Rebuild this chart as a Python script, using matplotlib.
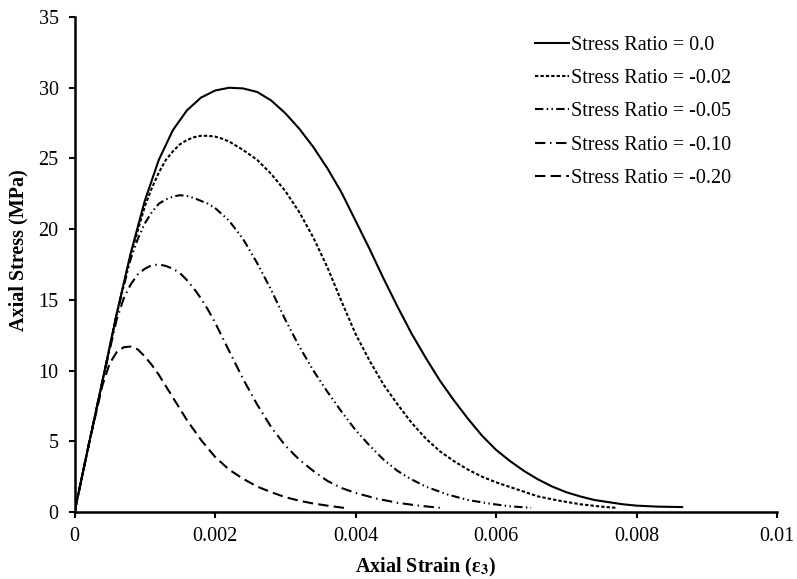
import matplotlib
matplotlib.use("Agg")
import matplotlib.pyplot as plt

plt.rcParams['font.family'] = ['Liberation Serif', 'DejaVu Serif']
plt.rcParams['mathtext.fontset'] = 'stix'

# stress-strain curves (strain [-], stress [MPa])
strain_00 = [0, .0002, .0004, .0006, .0008, .0010, .0012, .0014, .0016, .0018, .0020,
             .0022, .0024, .0026, .0028, .0030, .0032, .0034, .0036, .0038, .0040,
             .0042, .0044, .0046, .0048, .0050, .0052, .0054, .0056, .0058, .0060,
             .0062, .0064, .0066, .0068, .0070, .0072, .0074, .0076, .0078, .0080,
             .0083, .00865]
stress_00 = [0, 4.7, 9.3, 14.0, 18.3, 22.0, 24.9, 27.0, 28.4, 29.3, 29.8,
             30.0, 29.95, 29.7, 29.1, 28.2, 27.1, 25.8, 24.3, 22.6, 20.6,
             18.6, 16.5, 14.5, 12.6, 10.9, 9.3, 7.9, 6.6, 5.4, 4.4,
             3.6, 2.9, 2.3, 1.8, 1.4, 1.1, 0.85, 0.7, 0.55, 0.45,
             0.38, 0.35]

strain_02 = [0, .0002, .0004, .0006, .0008, .0010, .0011, .0012, .0013, .0014, .0015,
             .0016, .0017, .0018, .0019, .0020, .0021, .0022, .0024, .0026, .0028,
             .0030, .0032, .0034, .0036, .0038, .0040, .0042, .0044, .0046, .0048,
             .0050, .0052, .0054, .0056, .0058, .0060, .0063, .0066, .0069, .0072,
             .0075, .0077]
stress_02 = [0, 4.7, 9.3, 14.0, 18.2, 21.6, 22.9, 24.0, 24.9, 25.5, 26.0,
             26.3, 26.5, 26.6, 26.6, 26.55, 26.4, 26.2, 25.6, 24.9, 23.9,
             22.7, 21.2, 19.4, 17.3, 14.9, 12.6, 10.7, 9.0, 7.6, 6.3,
             5.2, 4.3, 3.6, 3.0, 2.5, 2.1, 1.6, 1.1, 0.8, 0.55,
             0.38, 0.3]

strain_05 = [0, .0002, .0004, .0006, .0008, .0009, .0010, .0011, .0012, .0013, .0014,
             .0015, .0016, .0017, .0018, .0019, .0020, .0022, .0024, .0026, .0028,
             .0030, .0032, .0034, .0036, .0038, .0040, .0042, .0044, .0046, .0048,
             .0050, .0053, .0056, .0059, .0062, .0065]
stress_05 = [0, 4.7, 9.3, 14.0, 17.9, 19.3, 20.4, 21.2, 21.8, 22.1, 22.3,
             22.4, 22.35, 22.2, 22.0, 21.8, 21.5, 20.6, 19.3, 17.6, 15.7,
             13.6, 11.7, 10.0, 8.5, 7.1, 5.8, 4.7, 3.7, 2.9, 2.3,
             1.8, 1.25, 0.85, 0.6, 0.4, 0.3]

strain_10 = [0, .0002, .0004, .0006, .0007, .0008, .0009, .0010, .0011, .0012, .0013,
             .0014, .0015, .0016, .0017, .0018, .0019, .0020, .0022, .0024, .0026,
             .0028, .0030, .0032, .0034, .0036, .0038, .0040, .0043, .0046, .0049,
             .0052]
stress_10 = [0, 4.7, 9.3, 13.6, 15.1, 16.1, 16.8, 17.2, 17.45, 17.5, 17.4,
             17.2, 16.9, 16.4, 15.8, 15.1, 14.3, 13.4, 11.4, 9.4, 7.6,
             6.0, 4.7, 3.7, 2.9, 2.2, 1.7, 1.35, 0.95, 0.65, 0.45,
             0.3]

strain_20 = [0, .0002, .0004, .0005, .0006, .0007, .0008, .0009, .0010, .0011, .0012,
             .0013, .0014, .0015, .0016, .0017, .0018, .0020, .0022, .0024, .0026,
             .0028, .0030, .0032, .0034, .0036, .0039]
stress_20 = [0, 4.7, 9.0, 10.5, 11.3, 11.65, 11.7, 11.5, 11.0, 10.4, 9.7,
             8.9, 8.1, 7.3, 6.5, 5.8, 5.1, 3.9, 3.0, 2.35, 1.8,
             1.4, 1.05, 0.8, 0.6, 0.45, 0.25]

labels = ['Stress Ratio = 0.0', 'Stress Ratio = -0.02', 'Stress Ratio = -0.05',
          'Stress Ratio = -0.10', 'Stress Ratio = -0.20']

fig = plt.figure(figsize=(7.97, 5.79), dpi=100)
ax = fig.add_axes([0.0935, 0.1157, 0.8814, 0.8549])

lw = 1.5
ax.plot(strain_00, stress_00, color='black', lw=lw, ls='-', label=labels[0])
ax.plot(strain_02, stress_02, color='black', lw=lw, ls=(0, (1.6, 1.0)), label=labels[1])
ax.plot(strain_05, stress_05, color='black', lw=lw, ls=(0, (4, 1.6, 0.7, 1.6, 0.7, 1.6)), label=labels[2])
ax.plot(strain_10, stress_10, color='black', lw=lw, ls=(0, (5, 2.2, 0.7, 2.2)), label=labels[3])
ax.plot(strain_20, stress_20, color='black', lw=lw, ls=(0, (5, 2.5)), label=labels[4])

ax.set_xlim(0, 0.01)
ax.set_ylim(0, 35)
ax.set_xticks([0, 0.002, 0.004, 0.006, 0.008, 0.01])
ax.set_xticklabels(['0', '0.002', '0.004', '0.006', '0.008', '0.01'])
ax.set_yticks(range(0, 36, 5))

for s in ['top', 'right']:
    ax.spines[s].set_visible(False)
for s in ['left', 'bottom']:
    ax.spines[s].set_linewidth(1.8)

ax.tick_params(direction='out', length=4.5, width=1.5, labelsize=14.5, pad=6, colors='black')
ax.tick_params(axis='y', pad=7)

ax.set_xlabel(r'Axial Strain (ε$_\mathbf{3}$)', fontsize=14.5, fontweight='bold')
ax.set_ylabel('Axial Stress (MPa)', fontsize=14.5, fontweight='bold')
ax.xaxis.set_label_coords(0.5, -0.088)
ax.yaxis.set_label_coords(-0.066, 0.53)

ax.legend(loc='upper left', bbox_to_anchor=(0.671, 0.938), bbox_transform=fig.transFigure,
          frameon=False, fontsize=14.5, handlelength=1.7, handletextpad=0.1,
          labelspacing=0.7, borderpad=0, borderaxespad=0)

fig.savefig('out.png', dpi=100)
